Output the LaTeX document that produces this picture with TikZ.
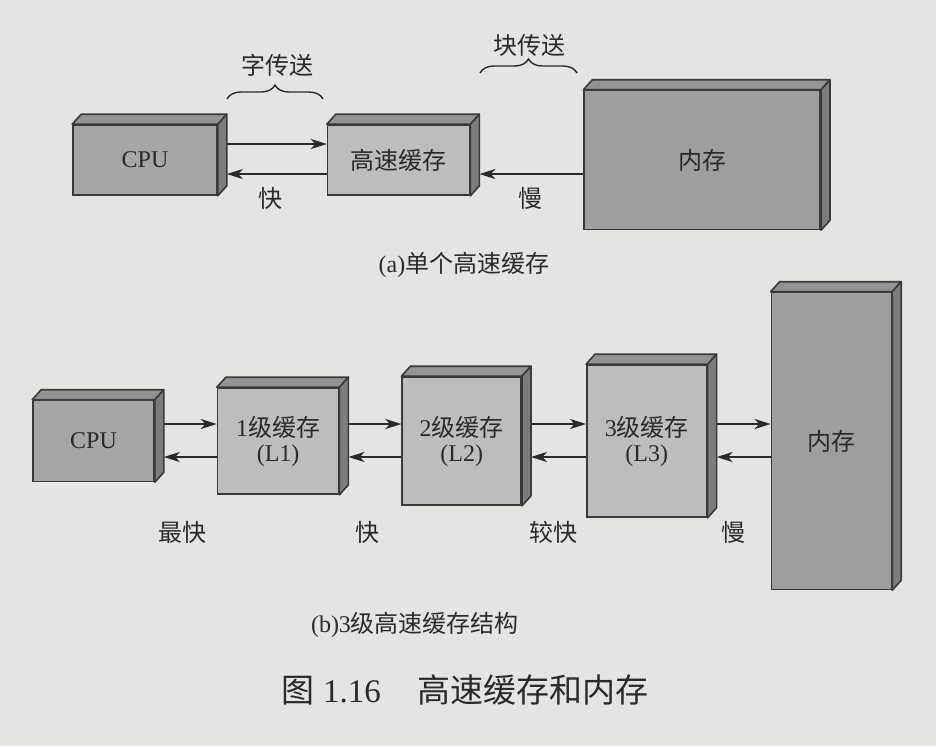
\documentclass[tikz,border=0pt]{standalone}
\usepackage{fontspec}
\setmainfont{Liberation Serif}
\newfontfamily\cjk{Noto Sans CJK SC}
\usepackage{tikz}
\usetikzlibrary{arrows.meta,positioning,decorations.pathreplacing}
\definecolor{Paper}{HTML}{E4E4E2}
\definecolor{Edge}{HTML}{3A3A3A}
\definecolor{Ink}{HTML}{2A2A2A}
\definecolor{CpuGray}{HTML}{A6A6A6}
\definecolor{CacheGray}{HTML}{BDBDBD}
\definecolor{MemGray}{HTML}{9E9E9E}
\definecolor{TopGray}{HTML}{939393}
\definecolor{SideGray}{HTML}{7C7C7C}
\newcommand{\slabdx}{4.5pt}
\newcommand{\slabdy}{5pt}
% top and right faces of a box node
\newcommand{\slabfaces}[1]{%
  \filldraw[topface] (#1.north west) -- ++(\slabdx,\slabdy) -- ([shift={(\slabdx,\slabdy)}]#1.north east) -- (#1.north east) -- cycle;
  \filldraw[sideface] (#1.north east) -- ++(\slabdx,\slabdy) -- ([shift={(\slabdx,\slabdy)}]#1.south east) -- (#1.south east) -- cycle;}
\tikzset{
 slab/.style={draw=Edge,line width=0.8pt,fill=#1,inner sep=0pt,align=center,text=Ink,
   font=\fontsize{12}{12.5}\selectfont},
 topface/.style={draw=Edge,line width=0.8pt,fill=TopGray,line join=round},
 sideface/.style={draw=Edge,line width=0.8pt,fill=SideGray,line join=round},
 arr/.style={-{Stealth[length=8pt,width=5pt,inset=2.3pt]},line width=1.1pt,draw=Ink},
 speed/.style={font=\cjk\fontsize{12}{12}\selectfont,text=Ink},
 capline/.style={font=\fontsize{12}{12}\selectfont,text=Ink},
 span/.style={decorate,decoration={brace,amplitude=7pt},line width=0.7pt,draw=Ink}
}
\begin{document}
\begin{tikzpicture}[x=0.5pt,y=-0.5pt]
\fill[Paper] (0,0) rectangle (936,746);
\useasboundingbox (0,0) rectangle (936,746);
% (a) single cache
\node[slab=CpuGray,minimum width=72pt,minimum height=35pt] (cpuA) at (145,160) {CPU};
\node[slab=CacheGray,minimum width=71pt,minimum height=35pt,right=54.5pt of cpuA] (cacheA) {\cjk 高速缓存};
\node[slab=MemGray,minimum width=118pt,minimum height=69.5pt,right=56.5pt of cacheA] (memA) {\cjk 内存};
\slabfaces{cpuA}\slabfaces{cacheA}\slabfaces{memA}
\coordinate (lowA) at ([shift={(\slabdx,-7pt)}]cacheA.east);
\draw[arr] ([shift={(\slabdx,8pt)}]cpuA.east) -- ([yshift=8pt]cacheA.west);
\draw[arr] ([yshift=-7pt]cacheA.west) -- ([shift={(\slabdx,-7pt)}]cpuA.east);
\draw[arr] (memA.west |- lowA) -- (lowA);
\node[speed] (fastA) at (270,198) {快};
\node[speed] (slowA) at (530,198) {慢};
\coordinate (wordL) at (227,99); \coordinate (wordR) at (323,99);
\coordinate (blockL) at (480,73); \coordinate (blockR) at (577,73);
\draw[span] (wordL) -- (wordR);
\draw[span] (blockL) -- (blockR);
\node[speed] (wordT) at (277,65) {字传送};
\node[speed] (blockT) at (529,45) {块传送};
\node[capline] (capA) at (464,265) {(a){\cjk 单个高速缓存}};
% (b) three levels
\node[slab=CpuGray,minimum width=60.5pt,minimum height=40.5pt] (cpuB) at (93.5,441) {CPU};
\node[slab=CacheGray,minimum width=60.5pt,minimum height=53pt,right=31pt of cpuB] (l1) {1{\cjk 级缓存}\\(L1)};
\node[slab=CacheGray,minimum width=59.5pt,minimum height=64pt,right=31pt of l1] (l2) {2{\cjk 级缓存}\\(L2)};
\node[slab=CacheGray,minimum width=60pt,minimum height=76pt,right=32pt of l2] (l3) {3{\cjk 级缓存}\\(L3)};
\node[slab=MemGray,minimum width=60pt,minimum height=148.5pt,right=31.5pt of l3] (memB) {\cjk 内存};
\slabfaces{cpuB}\slabfaces{l1}\slabfaces{l2}\slabfaces{l3}\slabfaces{memB}
\draw[arr] ([shift={(\slabdx,8.5pt)}]cpuB.east) -- ([yshift=8.5pt]l1.west);\draw[arr] ([yshift=-8pt]l1.west) -- ([shift={(\slabdx,-8pt)}]cpuB.east);
\draw[arr] ([shift={(\slabdx,8.5pt)}]l1.east) -- ([yshift=8.5pt]l2.west);\draw[arr] ([yshift=-8pt]l2.west) -- ([shift={(\slabdx,-8pt)}]l1.east);
\draw[arr] ([shift={(\slabdx,8.5pt)}]l2.east) -- ([yshift=8.5pt]l3.west);\draw[arr] ([yshift=-8pt]l3.west) -- ([shift={(\slabdx,-8pt)}]l2.east);
\draw[arr] ([shift={(\slabdx,8.5pt)}]l3.east) -- ([yshift=8.5pt]memB.west);\draw[arr] ([yshift=-8pt]memB.west) -- ([shift={(\slabdx,-8pt)}]l3.east);
\node[speed] (fastest) at (182,532) {最快};
\node[speed] (fastB) at (367,532) {快};
\node[speed] (fairB) at (553,532) {较快};
\node[speed] (slowB) at (733,532) {慢};
\node[capline] (capB) at (415,625) {(b)3{\cjk 级高速缓存结构}};
\node[capline,font=\fontsize{16.5}{17}\selectfont] (figcap) at (465,690) {{\cjk 图} 1.16\hspace{1.1em}{\cjk 高速缓存和内存}};
\end{tikzpicture}
\end{document}
